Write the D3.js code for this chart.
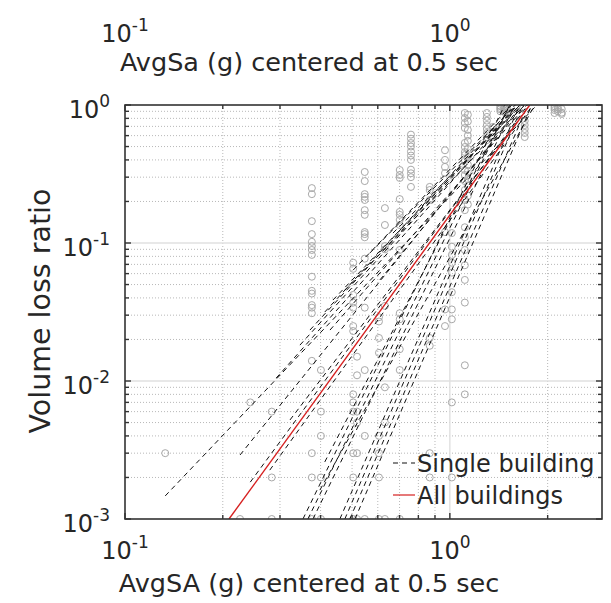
<!DOCTYPE html>
<html>
<head>
<meta charset="utf-8">
<script src="https://cdn.jsdelivr.net/npm/d3@7"></script>
<style>
  body { margin: 0; background: #fff; }
  svg { display: block; }
  text { font-family: "DejaVu Sans", Verdana, sans-serif; fill: #262626; }
</style>
</head>
<body>
<div id="chart"></div>
<script>
// Ground-motion levels (AvgSa, g) and the volume loss ratios observed at each level
const levelSa = [0.133, 0.226, 0.243, 0.283, 0.376, 0.401, 0.504, 0.518, 0.547, 0.605,
                 0.631, 0.701, 0.759, 0.867, 0.966, 1.014, 1.112, 1.136, 1.30, 1.356,
                 1.43, 1.47, 1.50, 1.70, 2.10, 2.15, 2.21];
const levelLoss = [
  [0.003],
  [0.001],
  [0.007],
  [0.006, 0.002, 0.001],
  [0.25, 0.226, 0.144, 0.116, 0.102, 0.095, 0.089, 0.082, 0.057, 0.045, 0.043, 0.0355, 0.034, 0.031, 0.014, 0.003, 0.002, 0.001],
  [0.012, 0.006, 0.004, 0.002, 0.001],
  [0.072, 0.065, 0.042, 0.037, 0.034, 0.025, 0.023, 0.008, 0.007, 0.006, 0.003, 0.002, 0.001],
  [0.015, 0.011, 0.006, 0.005, 0.003, 0.001],
  [0.327, 0.281, 0.226, 0.216, 0.205, 0.173, 0.16, 0.12, 0.116, 0.11, 0.077, 0.034, 0.012, 0.004, 0.001],
  [0.029, 0.027, 0.0205, 0.016, 0.004, 0.003, 0.002, 0.001],
  [0.179, 0.135, 0.095, 0.09, 0.035, 0.009, 0.005, 0.001],
  [0.338, 0.311, 0.296, 0.208, 0.168, 0.16, 0.147, 0.135, 0.089, 0.031, 0.028, 0.017, 0.012, 0.001],
  [0.61, 0.57, 0.53, 0.5, 0.46, 0.43, 0.4, 0.34, 0.32, 0.3, 0.255],
  [0.255, 0.242, 0.205, 0.0205, 0.018, 0.003, 0.002],
  [0.47, 0.4, 0.356, 0.321, 0.12, 0.033, 0.025],
  [0.118, 0.094, 0.082, 0.072, 0.061, 0.044, 0.033, 0.028, 0.007, 0.002],
  [0.875, 0.805, 0.741, 0.681, 0.531, 0.496, 0.456, 0.434, 0.399, 0.338, 0.311, 0.281, 0.242, 0.205, 0.173, 0.13, 0.11, 0.089, 0.069, 0.054, 0.037, 0.013, 0.008],
  [0.85, 0.76, 0.66, 0.6, 0.55, 0.48, 0.42, 0.37, 0.33, 0.29, 0.26, 0.22, 0.19],
  [0.875, 0.82, 0.77, 0.716, 0.67, 0.627, 0.586, 0.557],
  [0.693, 0.637, 0.586],
  [0.98, 0.95, 0.93, 0.9],
  [0.97, 0.94, 0.91, 0.89],
  [0.96, 0.92, 0.88],
  [0.766, 0.716, 0.67, 0.627, 0.586],
  [0.98, 0.95, 0.92, 0.875],
  [0.96, 0.93, 0.9],
  [0.935, 0.88, 0.861]
];

// Power-law fits for each building: segment end points (Sa, loss)
const singleSa0   = [0.133, 0.226, 0.243, 0.292, 0.3455, 0.412, 0.4365, 0.504, 0.5675, 0.668, 0.475, 0.4276, 0.322, 0.279,
                     0.353, 0.3656, 0.379, 0.4586, 0.475, 0.4922, 0.5105, 0.398, 0.412, 0.371, 0.609];
const singleLoss0 = [0.00147, 0.00291, 0.00185, 0.0105, 0.0182, 0.0316, 0.0386, 0.0637, 0.0847, 0.118, 0.0456, 0.0234, 0.00522, 0.00226,
                     0.001, 0.001, 0.001, 0.001, 0.001, 0.001, 0.001, 0.00162, 0.00259, 0.0234, 0.054];
const singleSa1   = [1.853, 1.665, 1.738, 1.642, 1.618, 1.585, 1.642, 1.551, 1.596, 1.665, 1.701, 1.726, 1.762, 1.80,
                     1.476, 1.530, 1.585, 1.642, 1.677, 1.738, 1.788, 1.826, 1.530, 1.607, 1.689];
const singleLoss1 = [1, 1, 1, 1, 1, 1, 1, 1, 1, 1, 1, 1, 1, 1,
                     1, 1, 1, 1, 1, 1, 1, 1, 1, 1, 1];

// Pooled fit over all buildings
const allSa   = [0.209, 1.762];
const allLoss = [0.001, 1];

const xTickExp = ["-1", "0"];
const yTickExp = ["-3", "-2", "-1", "0"];
const legendLabels = ["Single building", "All buildings"];

const W = 611, H = 603;
const L = 125, R = 602, T = 105, B = 519;

const svg = d3.select("#chart").append("svg").attr("width", W).attr("height", H);

const x = d3.scaleLog().domain([0.1, 2.94]).range([L, R]);
const y = d3.scaleLog().domain([0.001, 1]).range([B, T]);

const isMajor = v => Math.abs(Math.log10(v) - Math.round(Math.log10(v))) < 1e-9;
const xt = x.ticks();
const yt = y.ticks();

svg.append("defs").append("clipPath").attr("id", "plotClip")
  .append("rect").attr("x", L).attr("y", T).attr("width", R - L).attr("height", B - T);

// grid
const grid = svg.append("g");
grid.selectAll(".gxm").data(xt.filter(v => !isMajor(v))).join("line")
  .attr("x1", d => x(d)).attr("x2", d => x(d)).attr("y1", T).attr("y2", B)
  .attr("stroke", "#b0b0b0").attr("stroke-width", 0.9).attr("stroke-dasharray", "1,2");
grid.selectAll(".gym").data(yt.filter(v => !isMajor(v))).join("line")
  .attr("y1", d => y(d)).attr("y2", d => y(d)).attr("x1", L).attr("x2", R)
  .attr("stroke", "#b0b0b0").attr("stroke-width", 0.9).attr("stroke-dasharray", "1,2");
grid.selectAll(".gxM").data(xt.filter(v => isMajor(v) && x(v) > L + 1 && x(v) < R - 1)).join("line")
  .attr("x1", d => x(d)).attr("x2", d => x(d)).attr("y1", T).attr("y2", B)
  .attr("stroke", "#e0e0e0").attr("stroke-width", 1.4);
grid.selectAll(".gyM").data(yt.filter(v => isMajor(v) && y(v) > T + 1 && y(v) < B - 1)).join("line")
  .attr("y1", d => y(d)).attr("y2", d => y(d)).attr("x1", L).attr("x2", R)
  .attr("stroke", "#e0e0e0").attr("stroke-width", 1.4);

const plotG = svg.append("g").attr("clip-path", "url(#plotClip)");

// observations
const pts = [];
levelSa.forEach((sa, i) => levelLoss[i].forEach(v => pts.push([sa, v])));
plotG.selectAll("circle").data(pts).join("circle")
  .attr("cx", d => x(d[0])).attr("cy", d => y(d[1])).attr("r", 3.5)
  .attr("fill", "none").attr("stroke", "#a8a8a8").attr("stroke-width", 1);

// per-building fits
const line = d3.line().x(d => x(d[0])).y(d => y(d[1]));
const singles = singleSa0.map((s, i) => [[s, singleLoss0[i]], [singleSa1[i], singleLoss1[i]]]);
plotG.selectAll(".single").data(singles).join("path")
  .attr("d", line).attr("fill", "none").attr("stroke", "#111")
  .attr("stroke-width", 1).attr("stroke-dasharray", "5,4");

// pooled fit
plotG.append("path").datum(allSa.map((s, i) => [s, allLoss[i]]))
  .attr("d", line).attr("fill", "none").attr("stroke", "#d62020").attr("stroke-width", 1.4);

// axes box and inward ticks
const ax = svg.append("g").attr("stroke", "#333").attr("fill", "none");
ax.append("rect").attr("x", L).attr("y", T).attr("width", R - L).attr("height", B - T).attr("stroke-width", 1.6);
xt.forEach(v => {
  const len = isMajor(v) ? 6 : 4;
  ax.append("line").attr("x1", x(v)).attr("x2", x(v)).attr("y1", B).attr("y2", B - len).attr("stroke-width", 1.4);
  ax.append("line").attr("x1", x(v)).attr("x2", x(v)).attr("y1", T).attr("y2", T + len).attr("stroke-width", 1.4);
});
yt.forEach(v => {
  const len = isMajor(v) ? 6 : 4;
  ax.append("line").attr("y1", y(v)).attr("y2", y(v)).attr("x1", L).attr("x2", L + len).attr("stroke-width", 1.4);
  ax.append("line").attr("y1", y(v)).attr("y2", y(v)).attr("x1", R).attr("x2", R - len).attr("stroke-width", 1.4);
});

// power-of-ten tick labels
function powLabel(g, px, py, exp, anchor) {
  const t = g.append("text").attr("x", px).attr("y", py).attr("text-anchor", anchor).attr("font-size", 24);
  t.append("tspan").text("10");
  t.append("tspan").attr("dy", -11).attr("font-size", 17).text(exp);
}
const xMaj = xt.filter(isMajor);
xMaj.forEach((v, i) => {
  powLabel(svg, x(v), 559, xTickExp[i], "middle");
  powLabel(svg, x(v), 42, xTickExp[i], "middle");
});
const yMaj = yt.filter(isMajor);
yMaj.forEach((v, i) => powLabel(svg, 110, y(v) + 13, yTickExp[i], "end"));

// axis titles
svg.append("text").attr("x", 309).attr("y", 592).attr("text-anchor", "middle").attr("font-size", 25.5)
  .text("AvgSA (g) centered at 0.5 sec");
svg.append("text").attr("x", 309).attr("y", 71).attr("text-anchor", "middle").attr("font-size", 25.5)
  .text("AvgSa (g) centered at 0.5 sec");
svg.append("text").attr("transform", "translate(50,311) rotate(-90)").attr("text-anchor", "middle")
  .attr("font-size", 28.5).text("Volume loss ratio");

// legend
const leg = svg.append("g");
const legStyles = [{ stroke: "#111", dash: "5,4" }, { stroke: "#d62020", dash: null }];
legendLabels.forEach((lab, i) => {
  const ly = 463 + i * 32;
  leg.append("line").attr("x1", 393).attr("x2", 415).attr("y1", ly).attr("y2", ly)
    .attr("stroke", legStyles[i].stroke).attr("stroke-width", 1.2)
    .attr("stroke-dasharray", legStyles[i].dash);
  leg.append("text").attr("x", 417).attr("y", ly + 9).attr("font-size", 24).attr("fill", "#000").text(lab);
});
</script>
</body>
</html>
